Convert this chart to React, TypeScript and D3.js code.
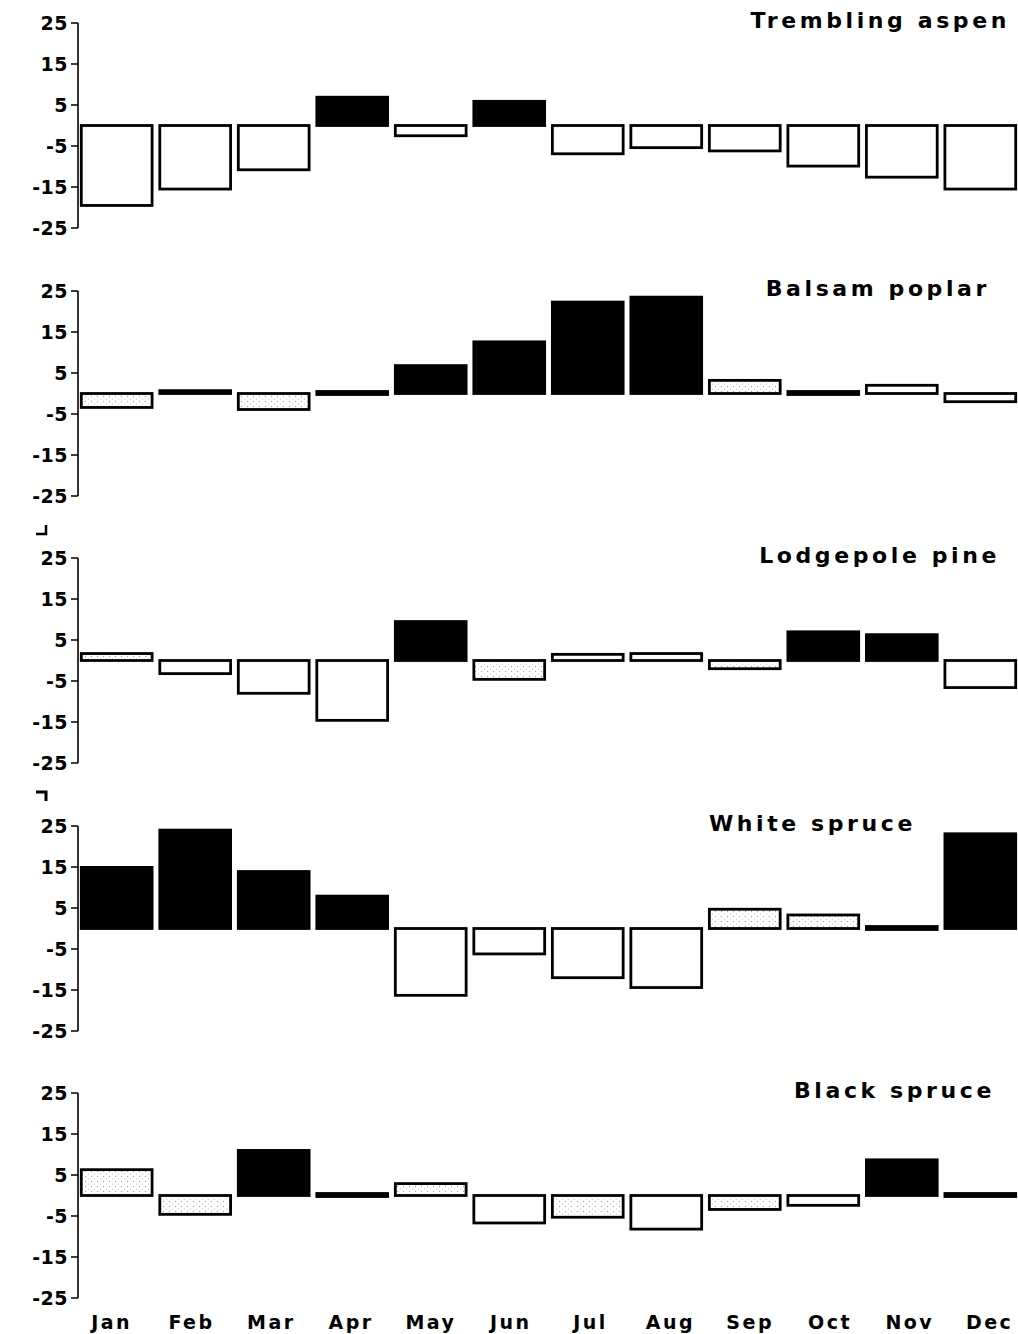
import React from 'react';
import * as d3 from 'd3';

const months = ['Jan', 'Feb', 'Mar', 'Apr', 'May', 'Jun', 'Jul', 'Aug', 'Sep', 'Oct', 'Nov', 'Dec'];
const species = ['Trembling aspen', 'Balsam poplar', 'Lodgepole pine', 'White spruce', 'Black spruce'];
const yTicks = [25, 15, 5, -5, -15, -25];

// monthly values per species
const aspen = [-19.5, -15.5, -10.8, 6.9, -2.5, 5.9, -6.9, -5.4, -6.2, -9.9, -12.6, -15.5];
const poplar = [-3.4, 0.7, -3.9, 0.3, 6.8, 12.6, 22.3, 23.5, 3.2, 0.4, 2.0, -2.0];
const pine = [1.7, -3.2, -8.0, -14.6, 9.5, -4.6, 1.5, 1.7, -2.0, 7.0, 6.3, -6.6];
const whiteSpruce = [14.9, 24.0, 13.9, 7.9, -16.3, -6.2, -12.0, -14.4, 4.7, 3.3, -0.4, 23.1];
const blackSpruce = [6.3, -4.6, 11.0, -0.5, 2.9, -6.7, -5.3, -8.2, -3.4, -2.4, 8.7, 0.6];

// bar style: p = black, w = open, s = stippled
const aspenKind = ['w', 'w', 'w', 'p', 'w', 'p', 'w', 'w', 'w', 'w', 'w', 'w'];
const poplarKind = ['s', 'p', 's', 'p', 'p', 'p', 'p', 'p', 's', 'p', 'w', 'w'];
const pineKind = ['s', 'w', 'w', 'w', 'p', 's', 'w', 'w', 's', 'p', 'p', 'w'];
const whiteKind = ['p', 'p', 'p', 'p', 'w', 'w', 'w', 'w', 's', 's', 'p', 'p'];
const blackKind = ['s', 's', 'p', 'p', 's', 'w', 's', 'w', 's', 'w', 'p', 'p'];

const values = [aspen, poplar, pine, whiteSpruce, blackSpruce];
const kinds = [aspenKind, poplarKind, pineKind, whiteKind, blackKind];

const panelTops = [23, 291, 558, 826, 1093];
const titleRight = [1010, 990, 1000, 916, 995];
const panelH = 205;
const axisX = 78;
const font = '"DejaVu Sans", Arial, sans-serif';

export default function App() {
  const x = d3.scaleBand<string>().domain(months).range([axisX + 1, 1018]).paddingInner(0.06).paddingOuter(0.01);

  return (
    <svg width={1018} height={1334} style={{ position: 'absolute', left: 0, top: 0, background: '#fff' }}>
      <defs>
        <pattern id="stip" width="6" height="5" patternUnits="userSpaceOnUse">
          <rect width="6" height="5" fill="#fff" />
          <circle cx="1.5" cy="1.5" r="0.7" fill="#aaa" />
          <circle cx="4.5" cy="4" r="0.6" fill="#bbb" />
        </pattern>
      </defs>
      {values.map((vals, pi) => {
        const top = panelTops[pi];
        const y = d3.scaleLinear().domain([-25, 25]).range([top + panelH, top]);
        return (
          <g key={species[pi]}>
            <line x1={axisX} x2={axisX} y1={y(25)} y2={y(-25)} stroke="#000" strokeWidth={1.6} />
            {yTicks.map(t => (
              <g key={t}>
                <line x1={axisX - 7} x2={axisX} y1={y(t)} y2={y(t)} stroke="#000" strokeWidth={1.5} />
                <text x={68} y={y(t)} dy="0.36em" textAnchor="end" fontFamily={font} fontWeight="bold" fontSize={19} letterSpacing={0.5}>
                  {t}
                </text>
              </g>
            ))}
            {vals.map((v, i) => {
              const k = kinds[pi][i];
              const y0 = y(0);
              const yv = y(v);
              const bx = x(months[i])! + 1.5;
              const bw = x.bandwidth() - 3;
              let by = Math.min(y0, yv);
              let bh = Math.abs(yv - y0);
              if (bh < 2.5) { by = y0 - 2; bh = 3; }
              const fill = k === 'p' ? '#000' : k === 's' ? 'url(#stip)' : '#fff';
              return (
                <rect key={i} x={bx} y={by} width={bw} height={bh} fill={fill} stroke="#000" strokeWidth={2.8} />
              );
            })}
            <text x={titleRight[pi]} y={top + 5} textAnchor="end" fontFamily={font} fontWeight="bold" fontSize={22} letterSpacing={3.6}>
              {species[pi]}
            </text>
          </g>
        );
      })}
      {months.map((m, i) => (
        <text key={m} x={x(m)! + x.bandwidth() / 2 - 5 + i * 1.3} y={1329} textAnchor="middle" fontFamily={font} fontWeight="bold" fontSize={19} letterSpacing={2.5}>
          {m}
        </text>
      ))}
      {/* scan marks between panels */}
      <path d="M36,534 H46 V525" fill="none" stroke="#000" strokeWidth={2.5} />
      <path d="M36,792 H46 V801" fill="none" stroke="#000" strokeWidth={3} />
    </svg>
  );
}
